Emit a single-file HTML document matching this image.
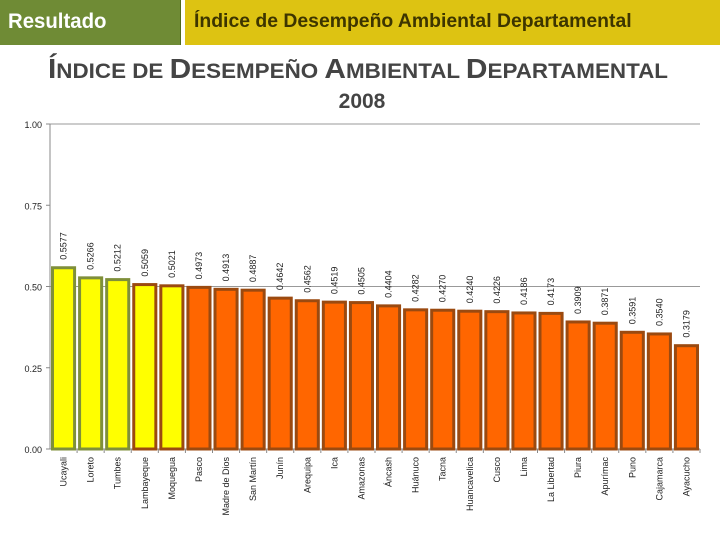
<!DOCTYPE html>
<html><head><meta charset="utf-8"><style>
body{margin:0;width:720px;height:540px;background:#fff;overflow:hidden;font-family:"Liberation Sans",sans-serif}
</style></head><body>
<div style="position:absolute;left:0;top:0;width:180px;height:45px;background:#6f8b35;border-right:1px solid #4f6a20"><span style="position:absolute;left:8px;top:10px;color:#fff;font-size:21px;font-weight:bold;display:inline-block;transform:scaleX(0.97);transform-origin:left">Resultado</span></div>
<div style="position:absolute;left:185px;top:0;width:535px;height:45px;background:#ddc312"><span style="position:absolute;left:9px;top:11px;color:#3d3500;font-size:19px;font-weight:bold;display:inline-block;transform:scaleX(1.02);transform-origin:left;white-space:nowrap">Índice de Desempeño Ambiental Departamental</span></div>
<svg width="720" height="540" style="position:absolute;left:0;top:0" id="c">
<text x="358" y="78" text-anchor="middle" font-size="28" font-weight="bold" fill="#444" textLength="620" lengthAdjust="spacingAndGlyphs">Í<tspan font-size="21">NDICE DE </tspan>D<tspan font-size="21">ESEMPEÑO </tspan>A<tspan font-size="21">MBIENTAL </tspan>D<tspan font-size="21">EPARTAMENTAL</tspan></text>
<text x="362" y="108" text-anchor="middle" font-size="21" font-weight="bold" fill="#444">2008</text>
</svg>
<script>
const categories=["Ucayali","Loreto","Tumbes","Lambayeque","Moquegua","Pasco","Madre de Dios","San Martín","Junín","Arequipa","Ica","Amazonas","Áncash","Huánuco","Tacna","Huancavelica","Cusco","Lima","La Libertad","Piura","Apurímac","Puno","Cajamarca","Ayacucho"];
const values=[0.5577,0.5266,0.5212,0.5059,0.5021,0.4973,0.4913,0.4887,0.4642,0.4562,0.4519,0.4505,0.4404,0.4282,0.4270,0.4240,0.4226,0.4186,0.4173,0.3909,0.3871,0.3591,0.3540,0.3179];
const ticks=[0,0.25,0.5,0.75,1];
const svg=document.getElementById('c'),NS='http://www.w3.org/2000/svg';
const x0=50,x1=700,yTop=124,yBot=449;
const y=v=>yBot-(yBot-yTop)*v;
const bw=(x1-x0)/categories.length;
function mk(t,a,txt){const e=document.createElementNS(NS,t);for(const k in a)e.setAttribute(k,a[k]);if(txt!=null)e.textContent=txt;svg.appendChild(e);return e;}
ticks.forEach(t=>{
 if(t===0.5||t===1){const g=mk('line',{x1:x0,x2:x1,y1:y(t),y2:y(t),stroke:'#999'});
 
 }
 mk('line',{x1:x0-4,x2:x0,y1:y(t),y2:y(t),stroke:'#888'});
 const l=mk('text',{x:x0-8,y:y(t)+4,'text-anchor':'end','font-size':9,fill:'#222'},t.toFixed(2));
 
 
});
const ax=mk('line',{x1:x0,x2:x0,y1:yTop,y2:yBot,stroke:'#888'});


const bx=mk('line',{x1:x0,x2:x1,y1:yBot,y2:yBot,stroke:'#888'});


categories.forEach((c,i)=>{
 const cx=x0+bw*(i+0.5);
 mk('line',{x1:x0+bw*(i+1),x2:x0+bw*(i+1),y1:yBot,y2:yBot+4,stroke:'#888'});
 const fill=i<5?'#ffff00':'#ff6600',st=i<3?'#7f8f3a':'#9b4a10';
 const b=mk('rect',{x:cx-bw/2+2.5,y:y(values[i]),width:bw-5,height:yBot-y(values[i]),fill:fill,stroke:st,'stroke-width':3});
 
 
 const v=mk('text',{x:0,y:0,transform:`translate(${cx+3},${y(values[i])-8}) rotate(-90)`,'font-size':9,fill:'#222'},values[i].toFixed(4));
 
 
 const l=mk('text',{x:0,y:0,transform:`translate(${cx+3},${yBot+8}) rotate(-90)`,'text-anchor':'end','font-size':9,fill:'#222'},c);
 
 
});
</script>
</body></html>
